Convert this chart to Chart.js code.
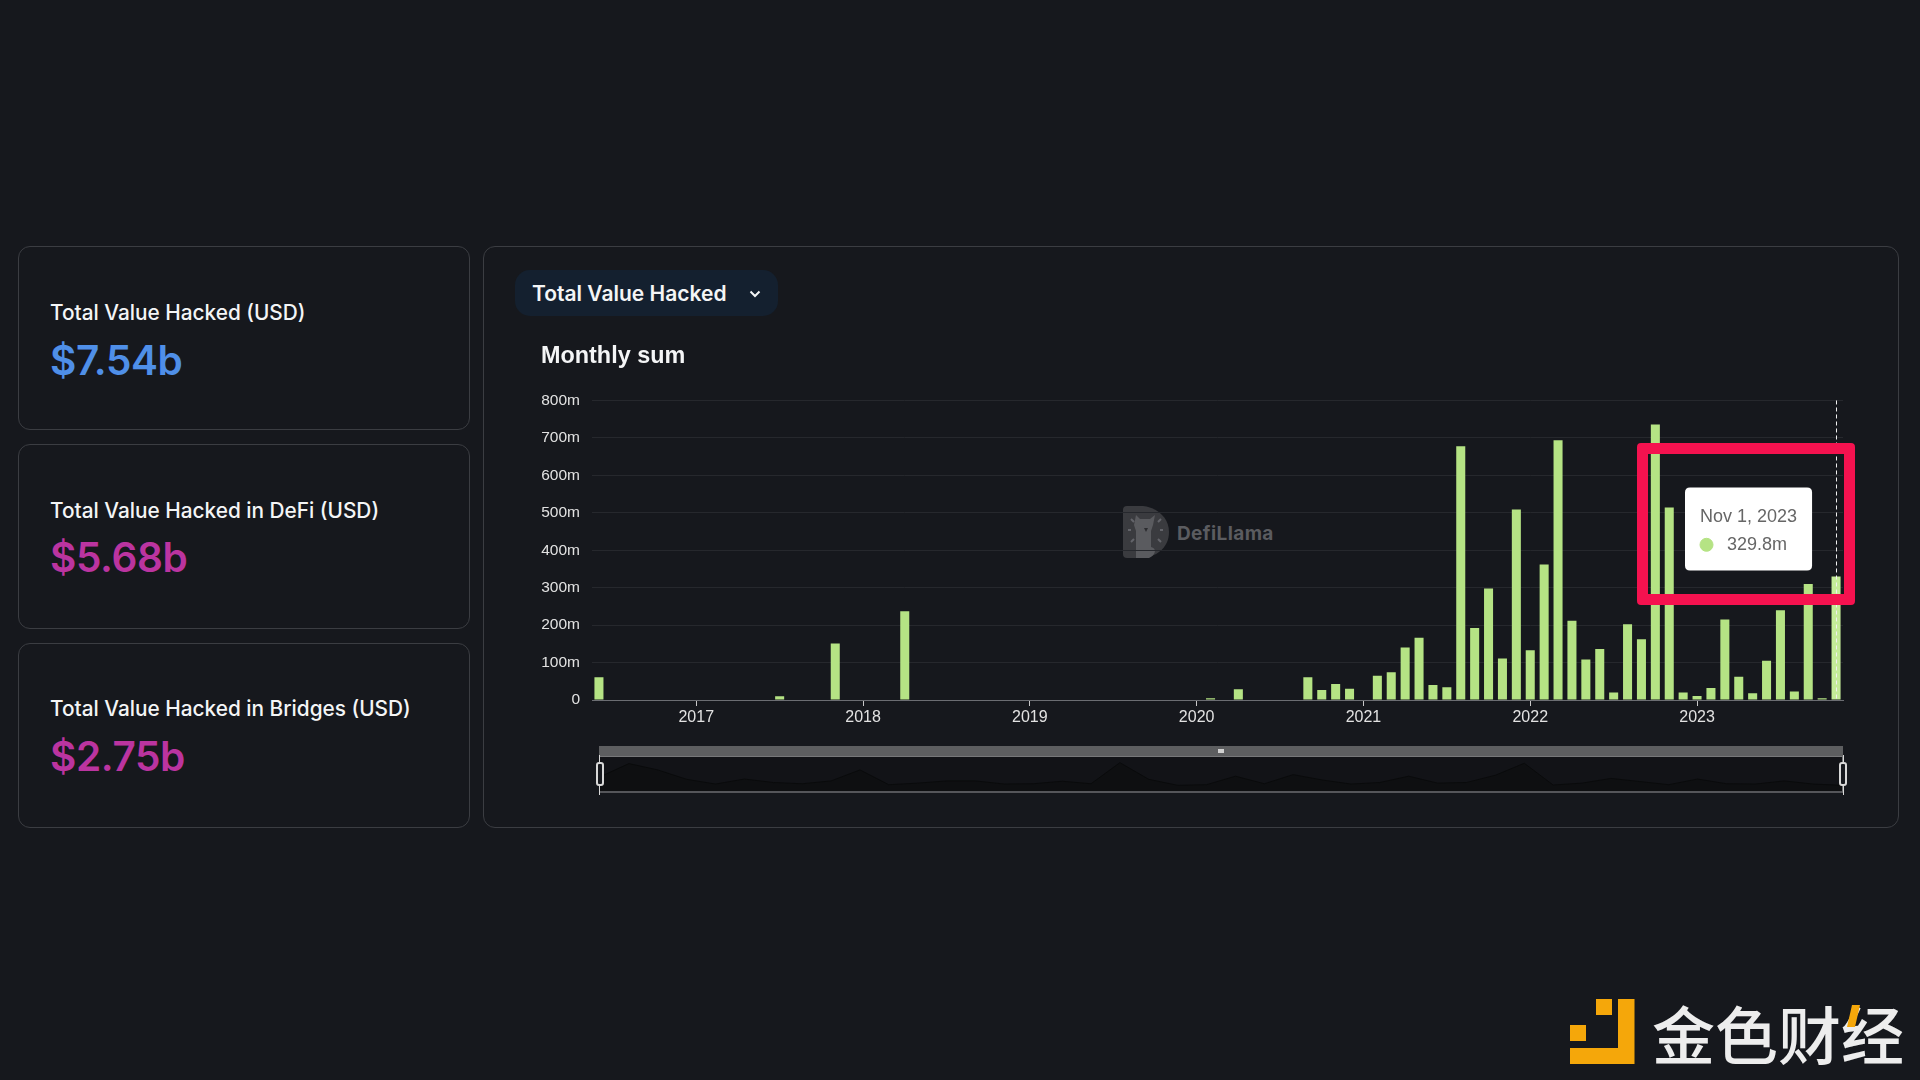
<!DOCTYPE html>
<html>
<head>
<meta charset="utf-8">
<title>Total Value Hacked</title>
<script src="https://cdn.jsdelivr.net/npm/chart.js@4/dist/chart.umd.min.js"></script>
<style>
    html, body { margin: 0; width: 1920px; height: 1080px; background: #16181d; overflow: hidden; font-family: Inter, sans-serif; }
    .card { position: absolute; box-sizing: border-box; border: 1px solid #3b3d42; border-radius: 12px; }
    .card-label { position: absolute; left: 31px; color: #f4f5f6; font-size: 20.8px; font-weight: 500; line-height: 24px; white-space: nowrap; }
    .card-value { position: absolute; left: 31px; font-size: 40.5px; font-weight: 600; line-height: 48px; letter-spacing: -0.4px; white-space: nowrap; }
    .blue { color: #4f8fe8; }
    .pink { color: #bb34a0; }
    #selector { position: absolute; left: 515px; top: 270px; width: 263px; height: 46px; border-radius: 15px; background: #14202f; color: #f4f5f6; font-size: 21px; font-weight: 600; line-height: 48px; }
    #selector span { position: absolute; left: 17px; white-space: nowrap; }
    #selector svg { position: absolute; left: 234px; top: 19px; }
    #mainChart { position: absolute; left: 541px; top: 343px; }
    #watermark { position: absolute; left: 1123px; top: 505px; }
    #watermark-text { position: absolute; left: 1177px; top: 522px; color: #5b5c60; font-size: 19px; font-weight: 700; line-height: 24px; letter-spacing: 0.4px; }
    #highlight { position: absolute; left: 1637px; top: 443px; width: 218px; height: 162px; box-sizing: border-box; border: 11.5px solid #f5124f; border-radius: 4px; }
    #slider-bar { position: absolute; left: 599px; top: 746px; width: 1244px; height: 10px; background: #5d5e60; }
    #slider-frame { position: absolute; left: 599px; top: 756px; width: 1244px; height: 37px; box-sizing: border-box; background: #121317; border-left: 1px solid #77787a; border-right: 1px solid #77787a; border-top: 1px solid #77787a; border-bottom: 2px solid #55565a; }
    #overviewChart { position: absolute; left: 600px; top: 757px; }
    #slider-grip { position: absolute; left: 1218px; top: 749px; width: 6px; height: 4px; background: #d0d0d0; }
    .handle-line { position: absolute; top: 755px; width: 1px; height: 40px; background: #d8d8d8; }
    .handle { position: absolute; top: 762px; width: 8px; height: 24px; box-sizing: border-box; border: 2px solid #d8d8d8; border-radius: 3px; background: #16181d; }
    #brand { position: absolute; left: 1570px; top: 999px; }
    #brand-text { position: absolute; left: 1652px; top: 992px; color: #ededed; font-family: "Noto Sans CJK SC", sans-serif; font-size: 63px; font-weight: 500; line-height: 80px; white-space: nowrap; }
    #brand-slash { position: absolute; left: 1847px; top: 1005px; }
</style>
</head>
<body>

<div class="card" style="left:18px;top:246px;width:452px;height:184px">
    <div class="card-label" style="top:54px">Total Value Hacked (USD)</div>
    <div class="card-value blue" style="top:90px">$7.54b</div>
</div>
<div class="card" style="left:18px;top:444px;width:452px;height:185px">
    <div class="card-label" style="top:54px">Total Value Hacked in DeFi (USD)</div>
    <div class="card-value pink" style="top:89px">$5.68b</div>
</div>
<div class="card" style="left:18px;top:643px;width:452px;height:185px">
    <div class="card-label" style="top:53px">Total Value Hacked in Bridges (USD)</div>
    <div class="card-value pink" style="top:89px">$2.75b</div>
</div>
<div class="card" style="left:483px;top:246px;width:1416px;height:582px"></div>

<div id="selector">
    <span>Total Value Hacked</span>
    <svg width="12" height="10" viewBox="0 0 12 10"><path d="M1.5 2.5 L6 7 L10.5 2.5" fill="none" stroke="#f4f5f6" stroke-width="2"/></svg>
</div>

<svg id="watermark" width="46" height="54" viewBox="0 0 46 54">
    <path d="M0 5 Q0 1 4 1 L20 1 C36 3 46 14 46 27 C46 41 36 51 20 53 L4 53 Q0 53 0 49 Z" fill="#3a3b3f"/>
    <path d="M13 10 L17 14 L27 14 L32 10 L30 20 L28 26 L28 42 C34 43 33 50 26 53 L13 53 L13 26 L11 20 Z" fill="#5a5b5f"/>
    <path d="M21 23 L25 23 L23 27 Z" fill="#2c2d30"/>
    <path d="M5 25 h3 M37 25 h3 M8 14 l3 3 M38 14 l-3 3 M8 37 l3 -3 M38 37 l-3 -3" stroke="#63646a" stroke-width="2"/>
</svg>
<div id="watermark-text">DefiLlama</div>

<canvas id="mainChart" width="1340" height="400"></canvas>

<div id="highlight"></div>

<div id="slider-bar"></div>
<div id="slider-grip"></div>
<div id="slider-frame"></div>
<canvas id="overviewChart" width="1242" height="34"></canvas>
<div class="handle-line" style="left:599px"></div>
<div class="handle" style="left:596px"></div>
<div class="handle-line" style="left:1843px"></div>
<div class="handle" style="left:1839px"></div>

<svg id="brand" width="65" height="65" viewBox="0 0 65 65">
    <path d="M48 0 H64.5 V65 H0 V49 H48 Z M26 0 H42 V16 H26 Z M0 26 H16 V42 H0 Z" fill="#f5a70a"/>
</svg>
<div id="brand-text">金色财经</div>
<svg id="brand-slash" width="14" height="23" viewBox="0 0 14 23"><path d="M5 0 H13 L8 22 H0 Z" fill="#f5a70a"/></svg>

<script>
const months = [
    "Jun 1, 2016", "Jul 1, 2016", "Aug 1, 2016", "Sep 1, 2016", "Oct 1, 2016", "Nov 1, 2016", "Dec 1, 2016",
    "Jan 1, 2017", "Feb 1, 2017", "Mar 1, 2017", "Apr 1, 2017", "May 1, 2017", "Jun 1, 2017", "Jul 1, 2017", "Aug 1, 2017", "Sep 1, 2017", "Oct 1, 2017", "Nov 1, 2017", "Dec 1, 2017",
    "Jan 1, 2018", "Feb 1, 2018", "Mar 1, 2018", "Apr 1, 2018", "May 1, 2018", "Jun 1, 2018", "Jul 1, 2018", "Aug 1, 2018", "Sep 1, 2018", "Oct 1, 2018", "Nov 1, 2018", "Dec 1, 2018",
    "Jan 1, 2019", "Feb 1, 2019", "Mar 1, 2019", "Apr 1, 2019", "May 1, 2019", "Jun 1, 2019", "Jul 1, 2019", "Aug 1, 2019", "Sep 1, 2019", "Oct 1, 2019", "Nov 1, 2019", "Dec 1, 2019",
    "Jan 1, 2020", "Feb 1, 2020", "Mar 1, 2020", "Apr 1, 2020", "May 1, 2020", "Jun 1, 2020", "Jul 1, 2020", "Aug 1, 2020", "Sep 1, 2020", "Oct 1, 2020", "Nov 1, 2020", "Dec 1, 2020",
    "Jan 1, 2021", "Feb 1, 2021", "Mar 1, 2021", "Apr 1, 2021", "May 1, 2021", "Jun 1, 2021", "Jul 1, 2021", "Aug 1, 2021", "Sep 1, 2021", "Oct 1, 2021", "Nov 1, 2021", "Dec 1, 2021",
    "Jan 1, 2022", "Feb 1, 2022", "Mar 1, 2022", "Apr 1, 2022", "May 1, 2022", "Jun 1, 2022", "Jul 1, 2022", "Aug 1, 2022", "Sep 1, 2022", "Oct 1, 2022", "Nov 1, 2022", "Dec 1, 2022",
    "Jan 1, 2023", "Feb 1, 2023", "Mar 1, 2023", "Apr 1, 2023", "May 1, 2023", "Jun 1, 2023", "Jul 1, 2023", "Aug 1, 2023", "Sep 1, 2023", "Oct 1, 2023", "Nov 1, 2023"
];

// monthly sum, in millions of USD
const hacked = [
    60.5, 0, 0, 0, 0, 0, 0,
    0, 0, 0, 0, 0, 0, 10, 0, 0, 0, 151, 0,
    0, 0, 0, 237, 0, 0, 0, 0, 0, 0, 0, 0,
    0, 0, 0, 0, 0, 0, 0, 0, 0, 0, 0, 0,
    0, 5, 0, 28.5, 0, 0, 0, 0, 60.5, 27, 43, 30,
    0, 65, 74, 140, 166, 40, 34, 678, 192, 298, 111, 509,
    133, 362, 694, 212, 108.5, 136, 20, 202, 162, 736, 514, 20,
    10.7, 32, 215, 62, 18, 105, 240, 23, 310, 4.5, 329.8
];

const yTicks = [0, 100, 200, 300, 400, 500, 600, 700, 800];

// the small shape inside the range slider
const overviewValues = [
    45, 87, 67, 37, 22, 38, 27, 23, 32, 67, 20, 25, 32, 32, 22, 23, 31, 23, 90, 37, 18, 20, 47,
    23, 52, 35, 22, 27, 47, 25, 27, 50, 88, 19, 25, 40, 30, 20, 38, 23, 22, 32, 22, 18
];

const barColor = "#b5e384";
const lastIndex = months.length - 1;

Chart.Tooltip.positioners.pinned = function () {
    return { x: 1144, y: 186 };
};

// dashed vertical pointer line on the selected month
const pointerLine = {
    id: "pointerLine",
    afterDatasetsDraw(chart) {
        const x = Math.round(chart.scales.x.getPixelForValue(lastIndex)) + 0.5;
        const ctx = chart.ctx;
        ctx.save();
        ctx.strokeStyle = "#f0f0f0";
        ctx.lineWidth = 1;
        ctx.setLineDash([4, 3]);
        ctx.beginPath();
        ctx.moveTo(x, chart.chartArea.top);
        ctx.lineTo(x, chart.chartArea.bottom);
        ctx.stroke();
        ctx.restore();
    },
};

const mainChart = new Chart(document.getElementById("mainChart"), {
    type: "bar",
    data: {
        labels: months,
        datasets: [
            {
                label: "Monthly sum",
                data: hacked,
                backgroundColor: (ctx) => (ctx.dataIndex === lastIndex ? "#c4ec98" : barColor),
                barPercentage: 0.65,
                categoryPercentage: 1,
            },
        ],
    },
    options: {
        responsive: false,
        animation: false,
        events: [],
        layout: { padding: { left: 0, right: 38, top: 0, bottom: 0 } },
        scales: {
            x: {
                offset: true,
                afterFit: (scale) => { scale.height = 43; },
                border: { color: "#6b6d72" },
                grid: {
                    offset: false,
                    drawOnChartArea: false,
                    tickLength: 6,
                    tickColor: (ctx) => (months[ctx.index] && months[ctx.index].startsWith("Jan") ? "#c8c8c8" : "transparent"),
                },
                ticks: {
                    autoSkip: false,
                    maxRotation: 0,
                    padding: 2,
                    color: "#e2e2e2",
                    font: { family: "'Liberation Sans'", size: 16 },
                    callback: (value) => (months[value].startsWith("Jan") ? months[value].slice(-4) : ""),
                },
            },
            y: {
                min: 0,
                max: 800,
                afterBuildTicks: (scale) => { scale.ticks = yTicks.map((v) => ({ value: v })); },
                afterFit: (scale) => { scale.width = 51; },
                border: { display: false },
                grid: { color: "#26282d", drawTicks: false },
                ticks: {
                    padding: 12,
                    color: "#e2e2e2",
                    font: { family: "'Liberation Sans'", size: 15.5 },
                    callback: (value) => (value === 0 ? "0" : value + "m"),
                },
            },
        },
        plugins: {
            legend: { display: false },
            title: {
                display: true,
                text: "Monthly sum",
                align: "start",
                color: "#f4f5f6",
                font: { family: "'Liberation Sans'", size: 23.4, weight: "bold" },
                padding: { top: 0, bottom: 29.4 },
            },
            tooltip: {
                enabled: true,
                position: "pinned",
                xAlign: "left",
                yAlign: "center",
                caretSize: 0,
                caretPadding: 0,
                backgroundColor: "#ffffff",
                cornerRadius: 5,
                padding: { left: 15, right: 15, top: 19, bottom: 15 },
                titleColor: "#666666",
                titleAlign: "center",
                titleFont: { family: "'Liberation Sans'", size: 18, weight: "normal" },
                titleMarginBottom: 6,
                bodyColor: "#666666",
                bodyFont: { family: "'Liberation Sans'", size: 18 },
                boxWidth: 13,
                boxHeight: 13,
                boxPadding: 12,
                usePointStyle: true,
                callbacks: {
                    label: (item) => item.parsed.y.toFixed(1) + "m",
                    labelColor: () => ({ borderColor: barColor, backgroundColor: barColor }),
                    labelPointStyle: () => ({ pointStyle: "circle", rotation: 0 }),
                },
            },
        },
    },
    plugins: [pointerLine],
});

mainChart.tooltip.setActiveElements([{ datasetIndex: 0, index: lastIndex }], { x: 0, y: 0 });
mainChart.update();

new Chart(document.getElementById("overviewChart"), {
    type: "line",
    data: {
        labels: overviewValues.map((v, i) => i),
        datasets: [
            {
                data: overviewValues,
                borderColor: "#0a0b0c",
                borderWidth: 1,
                backgroundColor: "#0e0f11",
                fill: true,
                pointRadius: 0,
                tension: 0,
            },
        ],
    },
    options: {
        responsive: false,
        animation: false,
        events: [],
        layout: { padding: 0 },
        scales: {
            x: { display: false },
            y: { display: false, min: 0, max: 108 },
        },
        plugins: { legend: { display: false }, tooltip: { enabled: false } },
    },
});
</script>
</body>
</html>
